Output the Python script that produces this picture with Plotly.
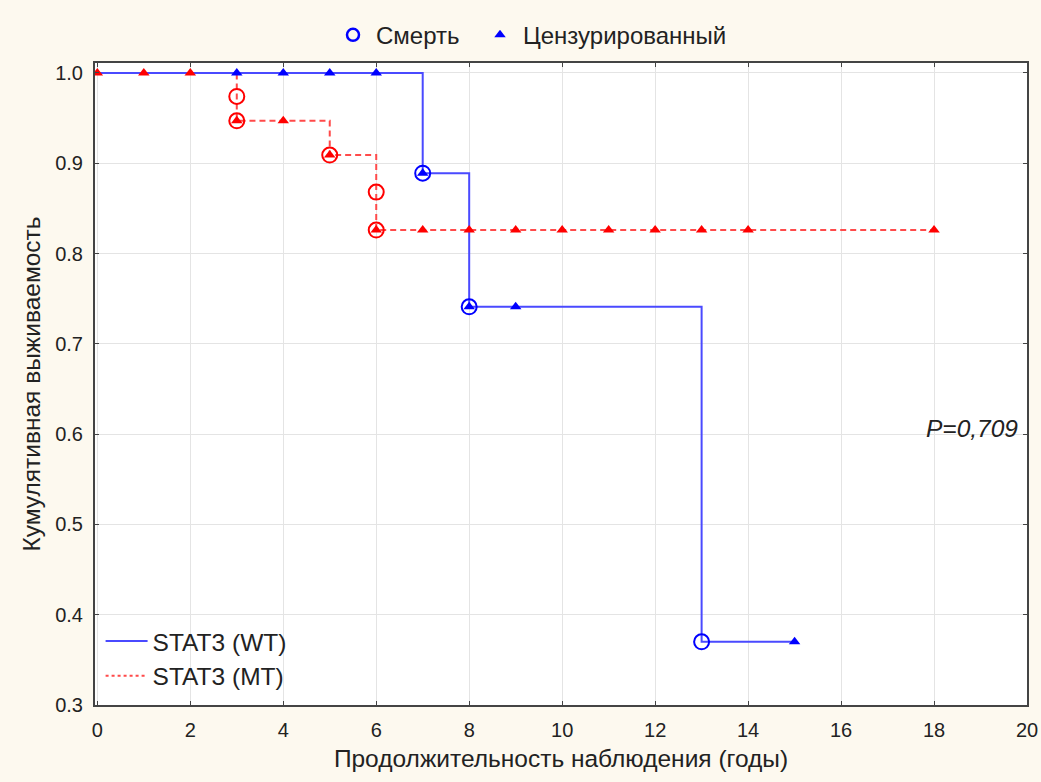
import plotly.graph_objects as go

# Kaplan-Meier step curves
wt_time = [0, 7, 8, 13, 15]
wt_surv = [1.0, 0.889, 0.741, 0.370, 0.370]
mt_time = [0, 3, 5, 6, 18]
mt_surv = [1.0, 0.947, 0.909, 0.826, 0.826]

# Death events (complete observations)
wt_death_x = [7, 8, 13]
wt_death_y = [0.889, 0.741, 0.370]
mt_death_x = [3, 3, 5, 6, 6]
mt_death_y = [0.974, 0.947, 0.909, 0.868, 0.826]

# Censored observations
wt_cens_x = [3, 4, 5, 6, 7, 8, 9, 15]
wt_cens_y = [1.0, 1.0, 1.0, 1.0, 0.889, 0.741, 0.741, 0.370]
mt_cens_x = [0, 1, 2, 3, 4, 5, 6, 7, 8, 9, 10, 11, 12, 13, 14, 18]
mt_cens_y = [1.0, 1.0, 1.0, 0.947, 0.947, 0.909, 0.826, 0.826, 0.826, 0.826,
             0.826, 0.826, 0.826, 0.826, 0.826, 0.826]

x_ticks = list(range(0, 21, 2))
y_ticks = [0.3, 0.4, 0.5, 0.6, 0.7, 0.8, 0.9, 1.0]

BLUE = "#0000ff"
BLUE_LINE = "#4a4aff"
RED = "#ff0000"
RED_LINE = "#ff4a4a"
TEXT = "#222222"
FONT = "Liberation Sans, Arial, sans-serif"

fig = go.Figure()

fig.add_trace(go.Scatter(
    x=mt_time, y=mt_surv, mode="lines", line_shape="hv",
    line=dict(color=RED_LINE, width=2, dash="6px,4px"),
    showlegend=False, hoverinfo="skip"))
fig.add_trace(go.Scatter(
    x=wt_time, y=wt_surv, mode="lines", line_shape="hv",
    line=dict(color=BLUE_LINE, width=2),
    showlegend=False, hoverinfo="skip"))

fig.add_trace(go.Scatter(
    x=mt_death_x, y=mt_death_y, mode="markers",
    marker=dict(symbol="circle-open", size=15, color=RED, line=dict(width=2)),
    showlegend=False))
fig.add_trace(go.Scatter(
    x=wt_death_x, y=wt_death_y, mode="markers",
    marker=dict(symbol="circle-open", size=15, color=BLUE, line=dict(width=2)),
    showlegend=False))
fig.add_trace(go.Scatter(
    x=mt_cens_x, y=mt_cens_y, mode="markers",
    marker=dict(symbol="triangle-up", size=10, color=RED),
    showlegend=False))
fig.add_trace(go.Scatter(
    x=wt_cens_x, y=wt_cens_y, mode="markers",
    marker=dict(symbol="triangle-up", size=10, color=BLUE),
    showlegend=False))

# Top legends: event types
fig.add_trace(go.Scatter(
    x=[None], y=[None], mode="markers", name="Смерть",
    marker=dict(symbol="circle-open", size=12, color=BLUE, line=dict(width=2.5)),
    legend="legend"))
fig.add_trace(go.Scatter(
    x=[None], y=[None], mode="markers", name="Цензурированный",
    marker=dict(symbol="triangle-up", size=10, color=BLUE),
    legend="legend3"))

# Inner legend: groups
fig.add_trace(go.Scatter(
    x=[None], y=[None], mode="lines", name="STAT3 (WT)",
    line=dict(color=BLUE_LINE, width=2), legend="legend2"))
fig.add_trace(go.Scatter(
    x=[None], y=[None], mode="lines", name="STAT3 (MT)",
    line=dict(color=RED_LINE, width=2, dash="dot"), legend="legend2"))

fig.add_annotation(
    x=19.85, y=0.606, xref="x", yref="y", text="<i>P=0,709</i>",
    showarrow=False, xanchor="right", yanchor="middle",
    font=dict(family=FONT, size=24.5, color=TEXT))

axis_common = dict(
    showline=True, linecolor="#444444", linewidth=2, mirror="ticks",
    ticks="inside", ticklen=4, tickcolor="#444444",
    showgrid=True, gridcolor="#e4e4e4", gridwidth=1, zeroline=False,
    tickfont=dict(family=FONT, size=20, color=TEXT),
    ticklabelstandoff=6, automargin=False,
)

top_legend = dict(orientation="h", xref="container", yref="container",
                  xanchor="left", y=0.955, yanchor="middle",
                  bgcolor="rgba(0,0,0,0)", itemwidth=36,
                  font=dict(family=FONT, size=24, color=TEXT),
                  itemsizing="trace")

fig.update_layout(
    width=1041, height=782,
    paper_bgcolor="#fdf9ef", plot_bgcolor="#ffffff",
    margin=dict(l=95, r=14, t=63, b=77, autoexpand=False),
    font=dict(family=FONT, size=20, color=TEXT),
    xaxis=dict(range=[-0.05, 20], tickvals=x_ticks,
               title=dict(text="Продолжительность наблюдения (годы)",
                          font=dict(family=FONT, size=24.5), standoff=10),
               **axis_common),
    yaxis=dict(range=[0.3, 1.011], tickvals=y_ticks, tickformat=".1f",
               title=dict(text="Кумулятивная выживаемость",
                          font=dict(family=FONT, size=24.5), standoff=8),
               **axis_common),
    legend=dict(x=330 / 1041, **top_legend),
    legend3=dict(x=477 / 1041, **top_legend),
    legend2=dict(x=0.006, xanchor="left", y=0.01, yanchor="bottom",
                 bgcolor="rgba(0,0,0,0)", tracegroupgap=0, itemwidth=42,
                 font=dict(family=FONT, size=24.5, color=TEXT)),
)

fig.write_html("out.html")
